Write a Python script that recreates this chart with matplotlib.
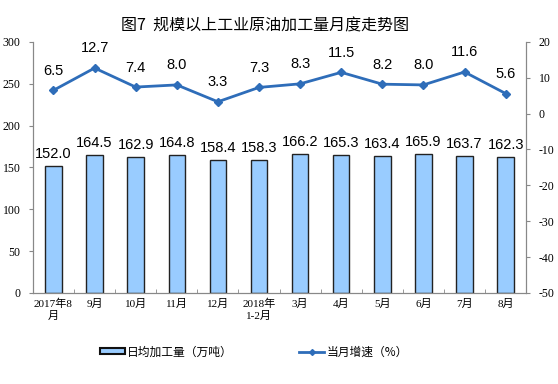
import matplotlib
matplotlib.use("Agg")
import matplotlib.pyplot as plt
from matplotlib.lines import Line2D
from matplotlib.patches import Patch

plt.rcParams['font.family'] = ['Liberation Serif', 'Noto Sans CJK SC']
plt.rcParams['axes.unicode_minus'] = False

categories = ["2017年8\n月", "9月", "10月", "11月", "12月", "2018年\n1-2月",
              "3月", "4月", "5月", "6月", "7月", "8月"]
output = [152.0, 164.5, 162.9, 164.8, 158.4, 158.3, 166.2, 165.3, 163.4, 165.9, 163.7, 162.3]
growth = [6.5, 12.7, 7.4, 8.0, 3.3, 7.3, 8.3, 11.5, 8.2, 8.0, 11.6, 5.6]
title = "图7  规模以上工业原油加工量月度走势图"
legend_bar = "日均加工量（万吨）"
legend_line = "当月增速（%）"

bar_color = "#99CCFF"
line_color = "#2E6DB9"
sans = ['Liberation Sans', 'Noto Sans CJK SC']
cjk = ['Noto Sans CJK SC']

fig = plt.figure(figsize=(5.58, 3.84), dpi=100)
ax = fig.add_axes([0.059, 0.237, 0.884, 0.654])
ax2 = ax.twinx()

x = list(range(len(categories)))
ax.bar(x, output, width=0.4, color=bar_color, edgecolor="#222222", linewidth=1.0, zorder=2)
for xi, v in zip(x, output):
    ax.text(xi, v + 6, f"{v:.1f}", ha="center", va="bottom", fontsize=10.5, family=sans)

ax2.plot(x, growth, color=line_color, linewidth=2, marker="D", markersize=4, zorder=3)
for xi, v in zip(x, growth):
    ax2.text(xi, v + 3.5, f"{v:.1f}", ha="center", va="bottom", fontsize=10.5, family=sans)

ax.set_xlim(-0.5, len(categories) - 0.5)
ax.set_ylim(0, 300)
ax.set_yticks(range(0, 301, 50))
ax2.set_ylim(-50, 20)
ax2.set_yticks(range(-50, 21, 10))

ax.set_xticks(x)
ax.set_xticklabels(categories, fontsize=8, linespacing=1.2)
ax.set_xticks([i + 0.5 for i in x], minor=True)
ax.tick_params(axis="x", which="major", length=0, pad=4)
ax.tick_params(axis="x", which="minor", length=3, color="#888888", direction="in")
ax.tick_params(axis="y", labelsize=8.5, length=3, color="#888888", direction="out", pad=6)
ax2.tick_params(axis="y", labelsize=8.5, length=3, color="#888888", direction="out", pad=6)

for a in (ax, ax2):
    a.spines["top"].set_visible(False)
    for s in ("left", "right", "bottom"):
        a.spines[s].set_color("#888888")
        a.spines[s].set_linewidth(0.8)

fig.text(0.475, 0.932, title, ha="center", va="center", fontsize=11.5, family=cjk)

handles = [Patch(facecolor=bar_color, edgecolor="#111111", linewidth=1.5),
           Line2D([0], [0], color=line_color, linewidth=2, marker="D", markersize=3)]
fig.legend(handles, [legend_bar, legend_line], loc="center", bbox_to_anchor=(0.455, 0.083),
           ncol=2, frameon=False, prop={'family': cjk, 'size': 8.5}, columnspacing=5.6,
           handlelength=2.1, handleheight=0.4, handletextpad=0.2)

fig.savefig("out.png", dpi=100)
